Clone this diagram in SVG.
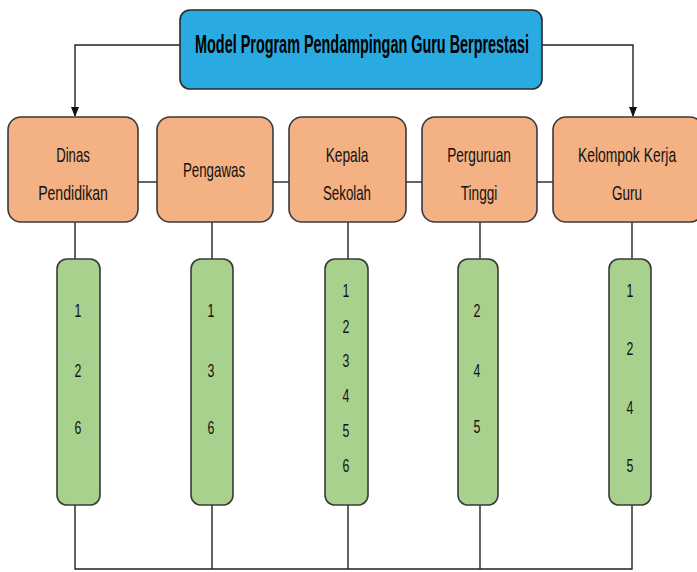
<svg xmlns="http://www.w3.org/2000/svg" width="697" height="572" viewBox="0 0 697 572">
<style>
.lbl{font-family:"Liberation Sans",Arial,sans-serif;font-size:20px;fill:#111;text-anchor:middle;dominant-baseline:central}
.num{font-family:"Liberation Sans",Arial,sans-serif;font-size:19px;fill:#111;text-anchor:middle;dominant-baseline:central}
.ttl{font-family:"Liberation Sans",Arial,sans-serif;font-size:26px;font-weight:bold;fill:#000;text-anchor:middle;dominant-baseline:central}
.org{fill:#F4B183;stroke:#3a3a3a;stroke-width:1.6}
.grn{fill:#A9D18E;stroke:#3a3a3a;stroke-width:1.6}
.blu{fill:#29ABE2;stroke:#2a2a2a;stroke-width:1.6}
.ln{fill:none;stroke:#222;stroke-width:1.4}
</style>
<defs>
<marker id="arr" markerWidth="10" markerHeight="10" refX="9" refY="5" orient="auto" markerUnits="userSpaceOnUse">
<path d="M0,1 L10,5 L0,9 z" fill="#111"/>
</marker>
</defs>
<rect width="697" height="572" fill="#fff"/>
<g id="connectors">
<polyline class="ln" points="180,45 75,45 75,116" marker-end="url(#arr)"/>
<polyline class="ln" points="542,45 633,45 633,116" marker-end="url(#arr)"/>
<line class="ln" x1="138" y1="182" x2="157" y2="182"/>
<line class="ln" x1="273" y1="182" x2="289" y2="182"/>
<line class="ln" x1="406" y1="182" x2="422" y2="182"/>
<line class="ln" x1="537" y1="182" x2="553" y2="182"/>
<line class="ln" x1="75" y1="222" x2="75" y2="259"/>
<line class="ln" x1="212" y1="222" x2="212" y2="259"/>
<line class="ln" x1="348" y1="222" x2="348" y2="259"/>
<line class="ln" x1="480" y1="222" x2="480" y2="259"/>
<line class="ln" x1="632" y1="222" x2="632" y2="259"/>
<polyline class="ln" points="75,505 75,569 632,569 632,505"/>
<line class="ln" x1="212" y1="505" x2="212" y2="569"/>
<line class="ln" x1="348" y1="505" x2="348" y2="569"/>
<line class="ln" x1="480" y1="505" x2="480" y2="569"/>
</g>
<g id="title">
<rect class="blu" x="180" y="10" width="362" height="79" rx="10"/>
<text class="ttl" transform="translate(362,44) scale(0.7,1)" textLength="477" lengthAdjust="spacingAndGlyphs">Model Program Pendampingan Guru Berprestasi</text>
</g>
<g id="dinas">
<rect class="org" x="8" y="117" width="130" height="105" rx="13"/>
<text class="lbl" transform="translate(73,155) scale(0.75,1)" textLength="45" lengthAdjust="spacingAndGlyphs">Dinas</text>
<text class="lbl" transform="translate(73,193) scale(0.75,1)" textLength="93" lengthAdjust="spacingAndGlyphs">Pendidikan</text>
</g>
<g id="pengawas">
<rect class="org" x="157" y="117" width="116" height="105" rx="13"/>
<text class="lbl" transform="translate(214,170) scale(0.75,1)" textLength="83" lengthAdjust="spacingAndGlyphs">Pengawas</text>
</g>
<g id="kepala">
<rect class="org" x="289" y="117" width="117" height="105" rx="13"/>
<text class="lbl" transform="translate(347,155) scale(0.75,1)" textLength="57" lengthAdjust="spacingAndGlyphs">Kepala</text>
<text class="lbl" transform="translate(347,193) scale(0.75,1)" textLength="64" lengthAdjust="spacingAndGlyphs">Sekolah</text>
</g>
<g id="perguruan">
<rect class="org" x="422" y="117" width="115" height="105" rx="13"/>
<text class="lbl" transform="translate(479,155) scale(0.75,1)" textLength="85" lengthAdjust="spacingAndGlyphs">Perguruan</text>
<text class="lbl" transform="translate(479,193) scale(0.75,1)" textLength="49" lengthAdjust="spacingAndGlyphs">Tinggi</text>
</g>
<g id="kelompok">
<rect class="org" x="553" y="117" width="150" height="105" rx="13"/>
<text class="lbl" transform="translate(627,155) scale(0.75,1)" textLength="131" lengthAdjust="spacingAndGlyphs">Kelompok Kerja</text>
<text class="lbl" transform="translate(627,193) scale(0.75,1)" textLength="40" lengthAdjust="spacingAndGlyphs">Guru</text>
</g>
<g id="list-dinas">
<rect class="grn" x="57" y="259" width="43" height="246" rx="10"/>
<text class="num" transform="translate(78,310) scale(0.65,1)">1</text>
<text class="num" transform="translate(78,370) scale(0.65,1)">2</text>
<text class="num" transform="translate(78,427) scale(0.65,1)">6</text>
</g>
<g id="list-pengawas">
<rect class="grn" x="191" y="259" width="42" height="246" rx="10"/>
<text class="num" transform="translate(211,310) scale(0.65,1)">1</text>
<text class="num" transform="translate(211,370) scale(0.65,1)">3</text>
<text class="num" transform="translate(211,427) scale(0.65,1)">6</text>
</g>
<g id="list-kepala">
<rect class="grn" x="325" y="259" width="43" height="246" rx="10"/>
<text class="num" transform="translate(346,290) scale(0.65,1)">1</text>
<text class="num" transform="translate(346,326) scale(0.65,1)">2</text>
<text class="num" transform="translate(346,360) scale(0.65,1)">3</text>
<text class="num" transform="translate(346,395) scale(0.65,1)">4</text>
<text class="num" transform="translate(346,430) scale(0.65,1)">5</text>
<text class="num" transform="translate(346,465) scale(0.65,1)">6</text>
</g>
<g id="list-perguruan">
<rect class="grn" x="458" y="259" width="40" height="246" rx="10"/>
<text class="num" transform="translate(477,310) scale(0.65,1)">2</text>
<text class="num" transform="translate(477,370) scale(0.65,1)">4</text>
<text class="num" transform="translate(477,426) scale(0.65,1)">5</text>
</g>
<g id="list-kelompok">
<rect class="grn" x="609" y="259" width="42" height="246" rx="10"/>
<text class="num" transform="translate(630,290) scale(0.65,1)">1</text>
<text class="num" transform="translate(630,348) scale(0.65,1)">2</text>
<text class="num" transform="translate(630,407) scale(0.65,1)">4</text>
<text class="num" transform="translate(630,465) scale(0.65,1)">5</text>
</g>
</svg>
